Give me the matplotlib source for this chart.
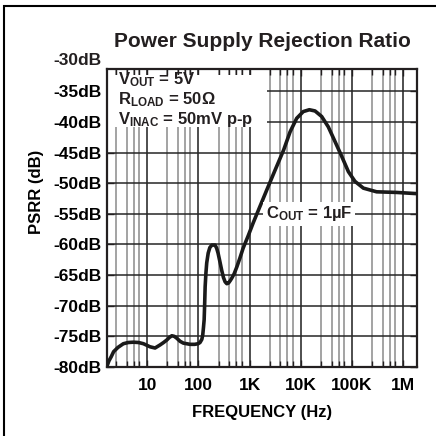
import matplotlib
matplotlib.use('Agg')
import matplotlib.pyplot as plt
import matplotlib.transforms as mtransforms
from matplotlib.ticker import LogLocator, NullFormatter
from matplotlib.patches import Rectangle

plt.rcParams.update({
    'font.family': ['Liberation Sans', 'DejaVu Sans'],
    'font.weight': 'bold',
    'mathtext.fontset': 'custom',
    'mathtext.rm': 'Liberation Sans:bold',
    'mathtext.bf': 'Liberation Sans:bold',
    'mathtext.it': 'Liberation Sans:bold',
    'mathtext.default': 'rm',
    'text.color': '#231f20',
})

# ── Data ────────────────────────────────────────────────────
freq_hz = [1.66, 1.8, 2.0, 2.22, 2.7, 3.44, 4.3, 5.4, 6.8, 8.5,
           11.4, 14.3, 17.9, 21, 24.2, 27, 30.4, 34, 38, 44,
           51, 69, 85, 99, 108, 117, 122, 126, 130, 133,
           136, 141, 146, 156, 168, 184, 213, 228, 243, 264,
           286, 310, 334, 360, 388, 420, 450, 500, 563, 650,
           750, 940, 1175, 1490, 2170, 3140, 4620, 6200, 8330, 11200,
           14700, 19000, 25600, 34500, 46700, 63000, 85000, 114500, 167000, 303000,
           742000, 1.86e6]
psrr_db = [-79.8, -79.0, -78.3, -77.5, -76.8, -76.2, -76.0, -75.95, -76.0, -76.2,
           -76.7, -76.9, -76.4, -76.0, -75.6, -75.2, -74.9, -75.0, -75.3, -75.8,
           -76.1, -76.3, -76.3, -76.2, -76.0, -75.5, -74.8, -73.6, -72.3, -69.8,
           -66.9, -64.6, -63.0, -61.4, -60.5, -60.1, -60.1, -60.6, -61.4, -62.8,
           -64.2, -65.4, -66.1, -66.4, -66.3, -65.9, -65.5, -64.8, -63.7, -62.2,
           -60.6, -58.6, -56.5, -54.4, -51.1, -47.9, -44.6, -41.6, -39.4, -38.3,
           -38.0, -38.2, -39.1, -40.8, -43.2, -45.6, -48.1, -49.7, -50.8, -51.4,
           -51.5, -51.7]

x_ticks = [10, 100, 1e3, 1e4, 1e5, 1e6]
x_labels = ['10', '100', '1K', '10K', '100K', '1M']
y_ticks = [-80, -75, -70, -65, -60, -55, -50, -45, -40, -35]
y_labels = ['-80dB', '-75dB', '-70dB', '-65dB', '-60dB', '-55dB',
            '-50dB', '-45dB', '-40dB', '-35dB']
top_label = '-30dB'
conditions = ['V$_{OUT}$ = 5V', 'R$_{LOAD}$ = 50Ω', 'V$_{INAC}$ = 50mV p-p']
cout_label = 'C$_{OUT}$ = 1µF'

# ── Figure ───────────────────────────────────────────────────
fig = plt.figure(figsize=(4.36, 4.36), dpi=100)
ax = fig.add_axes([107 / 436, 69 / 436, 310 / 436, 298 / 436])

ax.set_xscale('log')
ax.set_xlim(1.65, 1.86e6)
ax.set_ylim(-80, -31.35)

ax.set_xticks(x_ticks, x_labels)
ax.xaxis.set_minor_locator(LogLocator(base=10, subs=(2.5, 4, 5.5, 7), numticks=30))
ax.xaxis.set_minor_formatter(NullFormatter())
ax.set_yticks(y_ticks, y_labels)
ax.tick_params(which='both', direction='in', top=True, right=True,
               width=1, labelsize=12.5, color='#231f20')
ax.tick_params(which='major', length=5)
ax.tick_params(which='minor', length=4)
ax.tick_params(axis='x', pad=8)
ax.tick_params(axis='y', pad=4)

for s in ax.spines.values():
    s.set_linewidth(1.6)
    s.set_color('#231f20')

# grid drawn by hand so the label boxes can hide it but not the ticks
lo, hi = ax.get_xlim()
for v in ax.xaxis.get_minorticklocs():
    if lo < v < hi:
        ax.axvline(v, color='#8a8a8a', lw=1.1, zorder=1)
for v in x_ticks:
    ax.axvline(v, color='#1e1e1e', lw=1.1, zorder=1)
for v in y_ticks[1:]:
    ax.axhline(v, color='#262626', lw=1.1, zorder=1)

ax.plot(freq_hz, psrr_db, color='#1a1a1a', lw=2.6,
        solid_capstyle='round', solid_joinstyle='round', zorder=3)

# white box behind the test conditions
ax.add_patch(Rectangle((0.004, 0.805), 0.512, 0.176, transform=ax.transAxes,
                       facecolor='white', edgecolor='none', zorder=2))
for i, s in enumerate(conditions):
    ax.text(0.035, 0.950 - i * 0.067, s, transform=ax.transAxes,
            fontsize=12, va='baseline', zorder=4)

ax.text(1.46e4, -55, cout_label, ha='center', va='center', fontsize=12, zorder=4,
        bbox=dict(facecolor='white', edgecolor='none', pad=2))

# -30dB sits just above the plotted range
trans = mtransforms.blended_transform_factory(ax.transAxes, ax.transData)
trans = mtransforms.offset_copy(trans, fig=fig, x=-4, units='points')
ax.text(0, -30, top_label, transform=trans, ha='right', va='center',
        fontsize=12.5, clip_on=False)

ax.set_title('Power Supply Rejection Ratio', fontsize=15, fontweight='bold', pad=16)
ax.set_xlabel('FREQUENCY (Hz)', fontsize=12, fontweight='bold')
ax.xaxis.set_label_coords(0.5, -0.1275)
ax.set_ylabel('PSRR (dB)', fontsize=12, fontweight='bold')
ax.yaxis.set_label_coords(-0.203, 0.587)

# outer frame, clipped at right and bottom like the source
fig.add_artist(Rectangle((4.3 / 436, -0.1), 1.2, (436 - 6.2) / 436 + 0.1,
                         transform=fig.transFigure, fill=False,
                         edgecolor='black', linewidth=1.5))

plt.savefig('out.png', dpi=100)
